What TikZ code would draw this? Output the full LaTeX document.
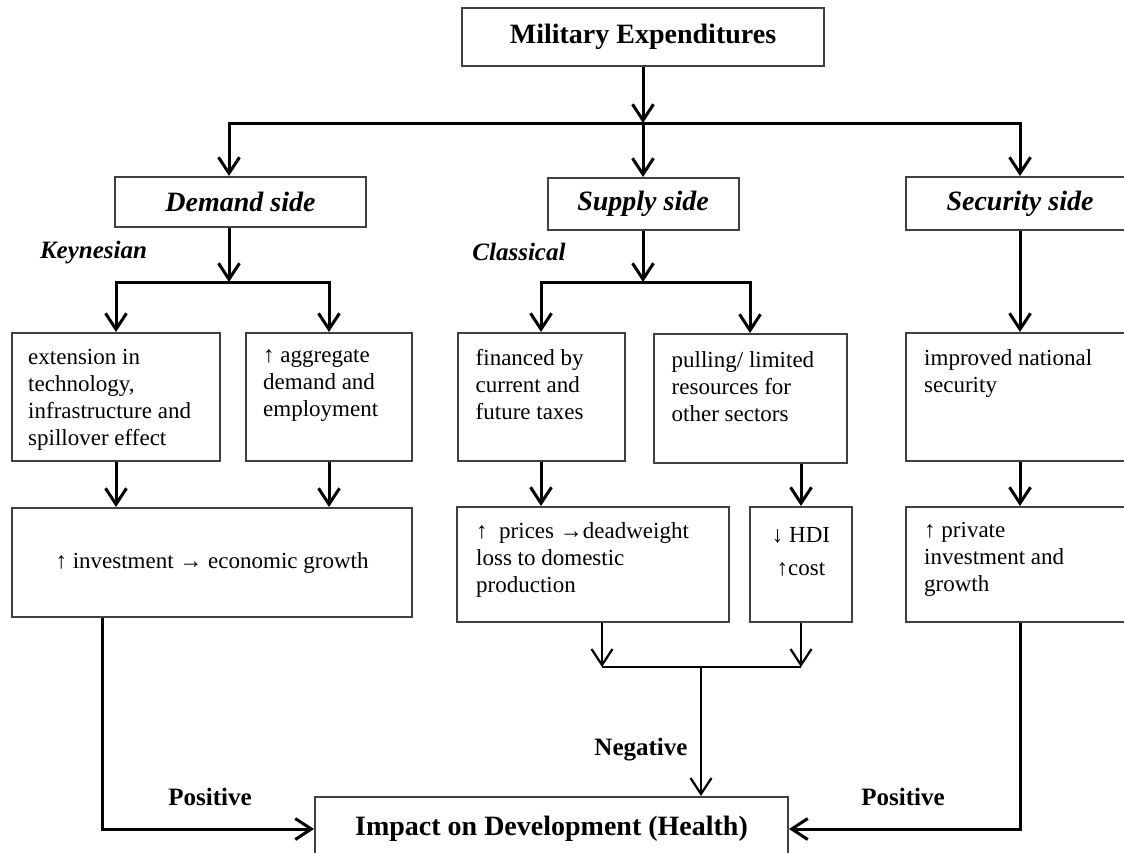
\documentclass[tikz,border=0pt]{standalone}
\usepackage{fontspec}
\setmainfont{Liberation Serif}
\usetikzlibrary{arrows.meta}

\begin{document}
\begin{tikzpicture}[x=1pt,y=1pt,
  font=\fontsize{23}{27}\selectfont,
  bx/.style={draw=black!75,line width=2pt,inner sep=0pt},
  txt/.style={anchor=north west,align=left,inner sep=0pt},
  hd/.style={font=\fontsize{28}{32}\selectfont\bfseries\itshape},
  lbl/.style={font=\fontsize{25}{30}\selectfont\bfseries},
  arr/.style={line width=3pt,-{Straight Barb[length=16pt,width=21pt]}},
  ln/.style={line width=3pt}]
  \useasboundingbox (0,0) rectangle (1124,-852);
  \clip (0,0) rectangle (1124,-852);
  % top
  \node[bx,minimum width=362pt,minimum height=58pt,font=\fontsize{28}{32}\selectfont\bfseries] (mil) at (643,-37) {Military Expenditures};
  % sides
  \node[bx,hd,minimum width=251pt,minimum height=50pt] (dem) at (240.5,-202) {Demand side};
  \node[bx,hd,minimum width=191pt,minimum height=52pt] (sup) at (643,-204) {Supply side};
  \node[bx,hd,minimum width=228pt,minimum height=53pt] (sec) at (1020,-203.5) {Security side};
  \node[hd,font=\fontsize{25}{30}\selectfont\bfseries\itshape] (key) at (93.5,-253) {Keynesian};
  \node[hd,font=\fontsize{25}{30}\selectfont\bfseries\itshape] (cls) at (519,-252) {Classical};
  % second row
  \node[bx,minimum width=208pt,minimum height=128pt] (ext) at (116,-397) {};
  \node[bx,minimum width=166pt,minimum height=128pt] (agg) at (329,-397) {};
  \node[bx,minimum width=167pt,minimum height=128pt] (fin) at (541,-397) {};
  \node[bx,minimum width=193pt,minimum height=129pt] (pul) at (750,-398.5) {};
  \node[bx,minimum width=228pt,minimum height=128pt] (imp) at (1020,-397) {};
  \node[txt] (extT) at ([shift={(17,-17)}]ext.north west) {extension in\\technology,\\infrastructure and\\spillover effect};
  \node[txt] (aggT) at ([shift={(18,-17)}]agg.north west) {↑ aggregate\\demand and\\employment};
  \node[txt] (finT) at ([shift={(19,-17)}]fin.north west) {financed by\\current and\\future taxes};
  \node[txt] (pulT) at ([shift={(19,-18)}]pul.north west) {pulling/ limited\\resources for\\other sectors};
  \node[txt] (impT) at ([shift={(19,-17)}]imp.north west) {improved national\\security};
  % third row
  \node[bx,minimum width=400pt,minimum height=109pt] (inv) at (212,-562.5) {↑ investment → economic growth};
  \node[bx,minimum width=272pt,minimum height=115pt] (pri) at (593,-564.5) {};
  \node[bx,minimum width=102pt,minimum height=115pt] (hdi) at (801,-564.5) {};
  \node[bx,minimum width=228pt,minimum height=115pt] (prv) at (1020,-564.5) {};
  \node[txt] (priT) at ([shift={(20,-16)}]pri.north west) {↑\ \ prices →deadweight\\loss to domestic\\production};
  \node[txt,anchor=north,align=center] (hdiT) at ([yshift=-21]hdi.north) {↓ HDI\\[6pt]↑cost};
  \node[txt] (prvT) at ([shift={(19,-16)}]prv.north west) {↑ private\\investment and\\growth};
  % bottom
  \node[bx,minimum width=473pt,minimum height=64pt,font=\fontsize{28}{32}\selectfont\bfseries] (dev) at (551.5,-829) {Impact on Development (Health)};
  \node[lbl] (posL) at (210,-797) {Positive};
  \node[lbl] (posR) at (903,-797) {Positive};
  \node[lbl] (neg) at (641,-750) {Negative};
  % junctions
  \coordinate (bus) at (643,-123);
  \coordinate (dj) at (229,-282);
  \coordinate (sj) at (643,-282);
  \coordinate (pl) at (102,-833);
  \coordinate (pj) at (602,-667);
  \coordinate (jn) at (701,-667);
  % connectors
  \draw[arr] (mil.south) -- (bus);
  \draw[arr] (bus) -| (dj |- dem.north);
  \draw[arr] (bus) -- (sup.north);
  \draw[arr] (bus) -| (sec.north);
  \draw[arr] (dj |- dem.south) -- (dj);
  \draw[arr] (dj) -| (ext.north);
  \draw[arr] (dj) -| (agg.north);
  \draw[arr] (sup.south) -- (sj);
  \draw[arr] (sj) -| (fin.north);
  \draw[arr] (sj) -| (pul.north);
  \draw[arr] (sec.south) -- (imp.north);
  \draw[arr] (ext.south) -- (ext.south |- inv.north);
  \draw[arr] (agg.south) -- (agg.south |- inv.north);
  \draw[arr] (fin.south) -- (fin.south |- pri.north);
  \draw[arr] (hdi.north |- pul.south) -- (hdi.north);
  \draw[arr] (imp.south) -- (prv.north);
  \draw[arr] (pl |- inv.south) |- (dev.west);
  \draw[arr] (prv.south) |- (dev.east);
  \draw[arr,line width=2.2pt] (pj |- pri.south) -- (pj);
  \draw[arr,line width=2.2pt] (hdi.south) -- (hdi.south |- pj);
  \draw[ln,line width=2.2pt] (pj) -- (hdi.south |- pj);
  \draw[arr,line width=2.2pt] (jn) -- (jn |- dev.north);
\end{tikzpicture}
\end{document}
